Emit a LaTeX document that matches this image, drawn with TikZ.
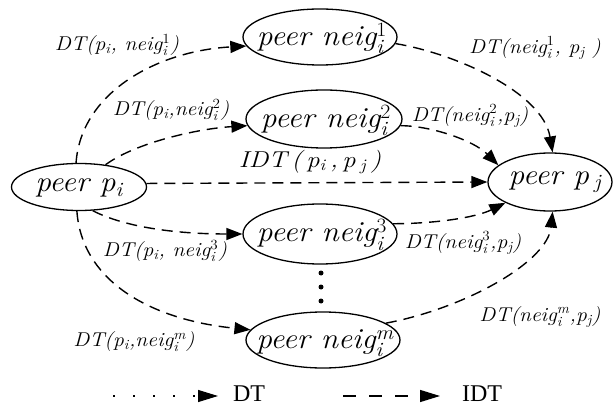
\documentclass[tikz,border=0pt]{standalone}
\usepackage{fontspec}
\usepackage{amsmath}
\newfontfamily\tms{Liberation Serif}
\usetikzlibrary{shapes.geometric,arrows.meta}
\newcommand{\ix}[2]{$_{\text{\itshape #1}}^{\text{#2}}$}
\newcommand{\jx}[1]{$_{\text{\itshape #1}}$}
\newcommand{\stretchit}[2]{\scalebox{#1}[1]{#2}}
\begin{document}
\begin{tikzpicture}[x=1pt,y=-1pt,
  peer/.style={draw, ellipse, line width=1.3pt, inner sep=0pt},
  ptext/.style={font=\itshape\fontsize{29}{29}\selectfont, inner sep=0pt},
  lab/.style={font=\itshape\fontsize{20}{20}\selectfont, inner sep=0pt},
  conn/.style={line width=1.4pt, dash pattern=on 11pt off 7pt, -{Triangle[length=16pt,width=12pt]}},
  dotn/.style={circle, fill, inner sep=0pt, minimum size=5pt},
  legtext/.style={font=\tms\fontsize{24}{24}\selectfont, inner sep=0pt}
]
\useasboundingbox (0,0) rectangle (613,406);

% peers
\node[peer, minimum width=135pt, minimum height=47pt] (pi) at (79,187) {};
\node[ptext] (pit) at (79,188) {\stretchit{1.08}{peer p\jx{i}}};
\node[peer, minimum width=124pt, minimum height=58pt] (pj) at (550,182) {};
\node[ptext] (pjt) at (555,182) {\stretchit{1.08}{peer p\,\jx{j}}};
\node[peer, minimum width=154pt, minimum height=56pt] (n1) at (320,37) {};
\node[ptext] (n1t) at (322,38) {\stretchit{1.08}{peer neig\ix{i}{\upshape 1}}};
\node[peer, minimum width=156pt, minimum height=58pt] (n2) at (324,119) {};
\node[ptext] (n2t) at (326,120) {\stretchit{1.08}{peer neig\ix{i}{\upshape 2}}};
\node[peer, minimum width=154pt, minimum height=60pt] (n3) at (320,234) {};
\node[ptext] (n3t) at (322,235) {\stretchit{1.08}{peer neig\ix{i}{\upshape 3}}};
\node[peer, minimum width=154pt, minimum height=56pt] (nm) at (323,340) {};
\node[ptext] (nmt) at (325,343) {\stretchit{1.08}{peer neig\ix{i}{m}}};

% dots
\node[dotn] (d1) at (321,273) {};
\node[dotn] (d2) at (321,287) {};
\node[dotn] (d3) at (321,301) {};

% connectors
\draw[conn] (pi.97) .. controls +(5,-70) and +(-90,5) .. (n1.187);
\draw[conn] (pi.40) .. controls +(30,-22) and +(-50,3) .. (n2.185);
\draw[conn] (pi.3) -- (pj.west);
\draw[conn] (pi.-60) .. controls +(35,18) and +(-60,0) .. (n3.west);
\draw[conn] (pi.-95) .. controls +(5,70) and +(-100,-10) .. (nm.172);
\draw[conn] (n1.-5) .. controls +(60,10) and +(-10,-60) .. (pj.85);
\draw[conn] (n2.-5) .. controls +(30,0) and +(-25,-25) .. (pj.162);
\draw[conn] (n3.8) .. controls +(40,0) and +(-30,15) .. (pj.205);
\draw[conn] (nm.15) .. controls +(80,-15) and +(-5,50) .. (pj.-85);

% labels
\node[lab] (l1) at (117,45) {\stretchit{1.08}{DT(p\jx{i}, neig\ix{i}{\upshape 1})}};
\node[lab] (l2) at (171,110) {\stretchit{1.08}{DT(p\jx{i},neig\ix{i}{\upshape 2})}};
\node[font=\itshape\fontsize{23}{23}\selectfont, inner sep=0pt] (lidt) at (310,162) {\stretchit{1.15}{IDT\,(\,p\jx{i}\,,\,p\,\jx{j}\,)}};
\node[lab] (l3) at (165,251) {\stretchit{1.08}{DT(p\jx{i}, neig\ix{i}{\upshape 3})}};
\node[lab] (l4) at (134,342) {\stretchit{1.08}{DT(p\jx{i},neig\ix{i}{m})}};
\node[lab] (r1) at (535,48) {\stretchit{1.08}{DT(neig\ix{i}{\upshape 1}, p\jx{j} )}};
\node[lab] (r2) at (470,116) {\stretchit{1.08}{DT(neig\ix{i}{\upshape 2},p\jx{j})}};
\node[lab] (r3) at (463,243) {\stretchit{1.08}{DT(neig\ix{i}{\upshape 3},p\jx{j})}};
\node[lab] (r4) at (540,317) {\stretchit{1.08}{DT(neig\ix{i}{m},p\jx{j})}};

% legend
\coordinate (ls1) at (113,396);
\coordinate (le1) at (218,396);
\draw[line width=1.2pt, dash pattern=on 1.5pt off 18.5pt, -{Triangle[length=20pt,width=12pt]}] (ls1) -- (le1);
\node[legtext] (lt1) at (249,394) {DT};
\coordinate (ls2) at (343,396);
\coordinate (le2) at (440,396);
\draw[line width=1.4pt, dash pattern=on 13pt off 13pt, -{Triangle[length=20pt,width=12pt]}] (ls2) -- (le2);
\node[legtext] (lt2) at (482,394) {IDT};
\end{tikzpicture}
\end{document}
